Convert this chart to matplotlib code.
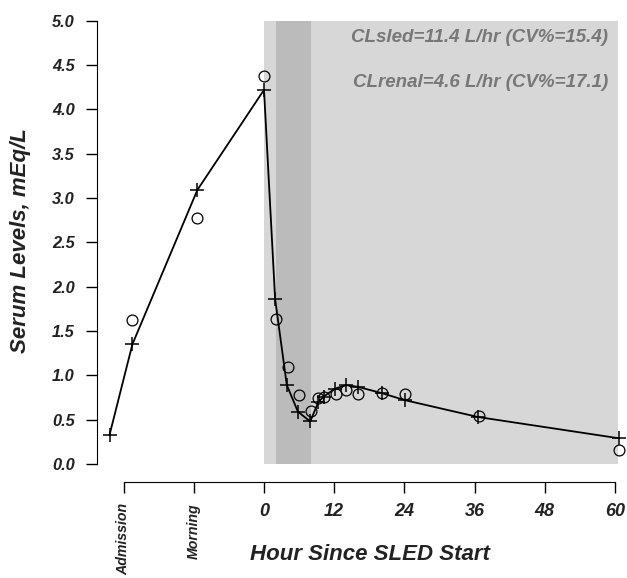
import matplotlib
matplotlib.use("Agg")
import matplotlib.pyplot as plt

plt.rcParams['font.family'] = ['Liberation Sans', 'DejaVu Sans']

# model predictions (crosses, joined by line)
pred_hours = [-26.4, -22.5, -11.4, 0.0, 1.9, 3.9, 5.8, 7.9, 9.3, 10.2, 12.1, 14.1, 16.1, 20.1, 24.1, 36.6, 60.7]
pred_level = [0.33, 1.35, 3.09, 4.22, 1.86, 0.89, 0.59, 0.48, 0.70, 0.76, 0.85, 0.89, 0.87, 0.80, 0.72, 0.53, 0.29]

# observed serum levels (circles)
obs_hours = [-22.5, -11.4, 0.0, 2.05, 4.05, 6.0, 8.0, 9.3, 10.3, 12.3, 14.1, 16.1, 20.2, 24.1, 36.7, 60.7]
obs_level = [1.62, 2.77, 4.38, 1.64, 1.09, 0.78, 0.60, 0.74, 0.76, 0.79, 0.83, 0.79, 0.80, 0.79, 0.54, 0.16]

x_ticks = [-24, -12, 0, 12, 24, 36, 48, 60]
x_labels = ["Admission", "Morning", "0", "12", "24", "36", "48", "60"]
y_ticks = [0.0, 0.5, 1.0, 1.5, 2.0, 2.5, 3.0, 3.5, 4.0, 4.5, 5.0]

sled_span = (0, 60.6)
session_span = (2, 8)
notes = ["CLsled=11.4 L/hr (CV%=15.4)", "CLrenal=4.6 L/hr (CV%=17.1)"]

fig = plt.figure(figsize=(6.27, 5.78), dpi=100)
ax = fig.add_axes([0.1547, 0.1656, 0.842, 0.8084])

ax.fill_betweenx([0, 5], sled_span[0], sled_span[1], color="#d7d7d7", lw=0)
ax.fill_betweenx([0, 5], session_span[0], session_span[1], color="#bbbbbb", lw=0)

ax.plot(pred_hours, pred_level, color="black", lw=1.3, marker="+", ms=10, mew=1.1)
ax.plot(obs_hours, obs_level, ls="none", marker="o", ms=7.8, mfc="none", mec="black", mew=0.9)

ax.text(58.8, 4.81, notes[0], ha="right", va="center", color="#777777",
        fontsize=13.5, fontweight="bold", fontstyle="italic")
ax.text(58.8, 4.30, notes[1], ha="right", va="center", color="#777777",
        fontsize=13.5, fontweight="bold", fontstyle="italic")

ax.set_xlim(-28.55, 61.7)
ax.set_ylim(-0.206, 5.064)

for s in ["top", "right"]:
    ax.spines[s].set_visible(False)
ax.spines["left"].set_bounds(0, 5)
ax.spines["bottom"].set_bounds(-24, 60)

ax.set_yticks(y_ticks)
ax.set_yticklabels([f"{v:.1f}" for v in y_ticks], fontsize=11.8,
                   fontweight="bold", fontstyle="italic", color="#222222")
ax.set_xticks(x_ticks)
ax.set_xticklabels(x_labels, fontsize=13, fontweight="bold", fontstyle="italic", color="#222222")
for lab in ax.get_xticklabels()[:2]:
    lab.set_rotation(90)
    lab.set_va("top")
    lab.set_fontsize(10.2)
ax.tick_params(direction="out", length=8, width=1)
ax.tick_params(axis="x", pad=7)
ax.tick_params(axis="y", pad=8)

fig.text(0.59, 0.04, "Hour Since SLED Start", ha="center", va="center",
         fontsize=16, fontweight="bold", fontstyle="italic", color="#222222")
fig.text(0.032, 0.583, "Serum Levels, mEq/L", ha="center", va="center", rotation=90,
         fontsize=16, fontweight="bold", fontstyle="italic", color="#222222")

fig.savefig("out.png", dpi=100)
